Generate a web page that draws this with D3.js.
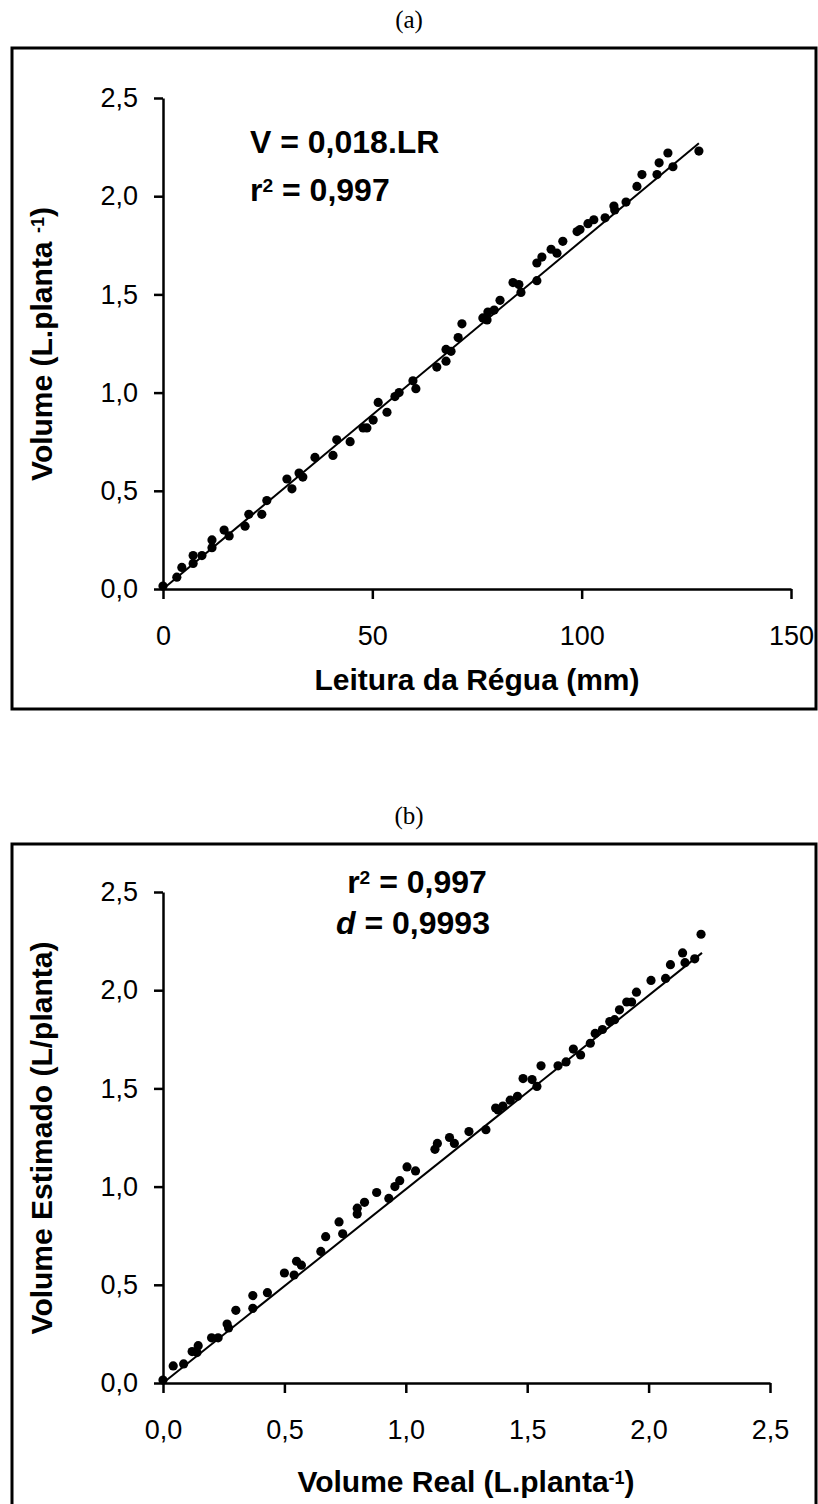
<!DOCTYPE html>
<html>
<head>
<meta charset="utf-8">
<style>
    body {
        margin: 0;
        background: #fff;
    }
    svg {
        display: block;
    }
    .panel-title {
        font-family: "Liberation Serif", "Times New Roman", serif;
        font-size: 25px;
        text-anchor: middle;
    }
    .tick text {
        font-family: Arial, "Liberation Sans", sans-serif;
        font-size: 27px;
        fill: #000;
    }
    .axis-title, .note {
        font-family: Arial, "Liberation Sans", sans-serif;
        font-weight: bold;
        fill: #000;
    }
    .axis-title {
        font-size: 30px;
        text-anchor: middle;
    }
    .note {
        font-size: 32px;
    }
</style>
</head>
<body>
<script src="https://cdn.jsdelivr.net/npm/d3@7"></script>
<script>

    // panel (a): leitura da regua x volume
    var aLR = [0, 3.3, 4.5, 7.2, 7.2, 9.3, 11.7, 11.7, 14.6, 15.8, 19.6, 20.5, 23.6, 24.8,
        29.6, 30.8, 32.5, 33.4, 36.3, 40.6, 41.5, 44.7, 47.8, 48.7, 50.2, 51.4, 53.5, 55.4,
        56.4, 59.7, 60.4, 65.4, 67.6, 67.6, 68.8, 70.5, 71.4, 76.4, 77.4, 77.6, 79.1, 80.5,
        83.6, 85.0, 85.5, 89.3, 89.3, 90.5, 92.7, 94.1, 95.5, 98.9, 99.6, 101.5, 102.9, 105.6,
        107.7, 107.9, 110.6, 113.2, 114.4, 118.0, 118.5, 120.6, 121.8, 128.0];
    var aVol = [0.015, 0.06, 0.11, 0.17, 0.13, 0.17, 0.21, 0.25, 0.30, 0.27, 0.32, 0.38, 0.38, 0.45,
        0.56, 0.51, 0.59, 0.57, 0.67, 0.68, 0.76, 0.75, 0.82, 0.82, 0.86, 0.95, 0.90, 0.98,
        1.00, 1.06, 1.02, 1.13, 1.16, 1.22, 1.21, 1.28, 1.35, 1.38, 1.37, 1.41, 1.42, 1.47,
        1.56, 1.55, 1.51, 1.57, 1.66, 1.69, 1.73, 1.71, 1.77, 1.82, 1.83, 1.86, 1.88, 1.89,
        1.95, 1.93, 1.97, 2.05, 2.11, 2.11, 2.17, 2.22, 2.15, 2.23];
    var aFitX = [0, 128];
    var aFitY = [0, 2.27];
    var aXTicks = [0, 50, 100, 150];
    var aYTicks = [0, 0.5, 1.0, 1.5, 2.0, 2.5];

    // panel (b): volume real x volume estimado
    var bReal = [0.0, 0.042, 0.085, 0.12, 0.145, 0.14, 0.20, 0.227, 0.264, 0.27, 0.30, 0.37, 0.37,
        0.43, 0.50, 0.54, 0.55, 0.57, 0.65, 0.67, 0.725, 0.74, 0.80, 0.80, 0.83, 0.88, 0.93,
        0.955, 0.975, 1.005, 1.04, 1.12, 1.13, 1.18, 1.20, 1.26, 1.33, 1.37, 1.38, 1.40, 1.43,
        1.46, 1.483, 1.52, 1.54, 1.557, 1.627, 1.66, 1.69, 1.72, 1.76, 1.78, 1.81, 1.84, 1.86,
        1.88, 1.91, 1.93, 1.95, 2.01, 2.07, 2.09, 2.14, 2.15, 2.19, 2.216];
    var bEst = [0.015, 0.087, 0.097, 0.16, 0.19, 0.155, 0.23, 0.23, 0.30, 0.28, 0.37, 0.38, 0.445,
        0.46, 0.56, 0.55, 0.62, 0.60, 0.67, 0.745, 0.82, 0.76, 0.89, 0.86, 0.92, 0.97, 0.94,
        1.00, 1.03, 1.10, 1.08, 1.19, 1.22, 1.25, 1.22, 1.28, 1.29, 1.40, 1.39, 1.41, 1.44,
        1.46, 1.55, 1.545, 1.51, 1.615, 1.615, 1.635, 1.70, 1.67, 1.73, 1.78, 1.80, 1.84, 1.85,
        1.90, 1.94, 1.94, 1.99, 2.05, 2.06, 2.13, 2.19, 2.14, 2.16, 2.285];
    var bFitX = [0, 2.22];
    var bFitY = [0, 2.19];
    var bXTicks = [0, 0.5, 1.0, 1.5, 2.0, 2.5];
    var bYTicks = [0, 0.5, 1.0, 1.5, 2.0, 2.5];

    var ptBR = d3.formatLocale({decimal: ",", thousands: ".", grouping: [3], currency: ["R$", ""]});
    var fmt1 = ptBR.format(".1f"),
        fmt0 = ptBR.format("d");

    var width = 818,
        height = 1504,
        axisLeftX = 163,
        boxLeft = 12,
        boxRight = 816;

    var svg = d3.select("body").append("svg")
        .attr("width", width)
        .attr("height", height);

    function panel(opt) {
        var g = svg.append("g");

        g.append("rect")
            .attr("x", boxLeft)
            .attr("y", opt.boxTop)
            .attr("width", boxRight - boxLeft)
            .attr("height", opt.boxBottom - opt.boxTop)
            .attr("fill", "none")
            .attr("stroke", "#000")
            .attr("stroke-width", 3);

        g.append("text")
            .attr("class", "panel-title")
            .attr("x", 409)
            .attr("y", opt.boxTop - 20)
            .text(opt.title);

        var x = d3.scaleLinear().domain(opt.xDomain).range([axisLeftX, opt.xRight]);
        var y = d3.scaleLinear().domain([0, 2.5]).range([opt.y0, opt.y0 - 491]);

        g.append("g")
            .attr("transform", "translate(" + axisLeftX + ",0)")
            .call(d3.axisLeft(y).tickValues(opt.yTicks).tickFormat(fmt1)
                .tickSize(9).tickSizeOuter(0).tickPadding(16));

        var xAxis = g.append("g")
            .attr("transform", "translate(0," + opt.y0 + ")")
            .call(d3.axisBottom(x).tickValues(opt.xTicks).tickFormat(opt.xFormat)
                .tickSize(10).tickSizeOuter(0));

        xAxis.selectAll(".tick text")
            .attr("y", 56)
            .attr("dy", null);

        g.selectAll(".domain, .tick line")
            .attr("stroke", "#000")
            .attr("stroke-width", 2.5);

        g.append("line")
            .attr("x1", x(opt.fitX[0]))
            .attr("y1", y(opt.fitY[0]))
            .attr("x2", x(opt.fitX[1]))
            .attr("y2", y(opt.fitY[1]))
            .attr("stroke", "#000")
            .attr("stroke-width", 2);

        g.append("g").selectAll("circle")
            .data(d3.range(opt.xs.length))
          .enter().append("circle")
            .attr("cx", function(i) {return x(opt.xs[i])})
            .attr("cy", function(i) {return y(opt.ys[i])})
            .attr("r", 4.6)
            .attr("fill", "#000");

        var xt = g.append("text")
            .attr("class", "axis-title")
            .attr("x", opt.xTitleX)
            .attr("y", opt.y0 + opt.xTitleDy);
        opt.xTitle(xt);

        var yt = g.append("text")
            .attr("class", "axis-title")
            .attr("transform", "translate(52," + (opt.y0 - 245) + ") rotate(-90)");
        opt.yTitle(yt);

        return g;
    }

    // texto com expoente (r2, planta-1)
    function sup(sel, base, s, rest) {
        sel.append("tspan").text(base);
        sel.append("tspan").attr("dy", "-0.45em").attr("font-size", "0.6em").text(s);
        sel.append("tspan").attr("dy", "0.27em").text(rest);
    }

    var ga = panel({
        title: "(a)",
        boxTop: 48, boxBottom: 709,
        y0: 589, xRight: 791,
        xDomain: [0, 150], xTicks: aXTicks, yTicks: aYTicks, xFormat: fmt0,
        xs: aLR, ys: aVol, fitX: aFitX, fitY: aFitY,
        xTitleX: 477, xTitleDy: 101,
        xTitle: function(t) {t.text("Leitura da Régua (mm)")},
        yTitle: function(t) {sup(t, "Volume (L.planta ", "-1", ")")}
    });

    ga.append("text").attr("class", "note").attr("x", 250).attr("y", 153)
        .text("V = 0,018.LR");
    sup(ga.append("text").attr("class", "note").attr("x", 250).attr("y", 201),
        "r", "2", " = 0,997");

    var gb = panel({
        title: "(b)",
        boxTop: 844, boxBottom: 1520,
        y0: 1383, xRight: 770,
        xDomain: [0, 2.5], xTicks: bXTicks, yTicks: bYTicks, xFormat: fmt1,
        xs: bReal, ys: bEst, fitX: bFitX, fitY: bFitY,
        xTitleX: 466, xTitleDy: 109,
        xTitle: function(t) {sup(t, "Volume Real (L.planta", "-1", ")")},
        yTitle: function(t) {t.text("Volume Estimado (L/planta)")}
    });

    sup(gb.append("text").attr("class", "note").attr("x", 417).attr("y", 893)
        .attr("text-anchor", "middle"), "r", "2", " = 0,997");
    var dLine = gb.append("text").attr("class", "note").attr("x", 413).attr("y", 934)
        .attr("text-anchor", "middle");
    dLine.append("tspan").attr("font-style", "italic").text("d");
    dLine.append("tspan").text(" = 0,9993");
</script>
</body>
</html>
